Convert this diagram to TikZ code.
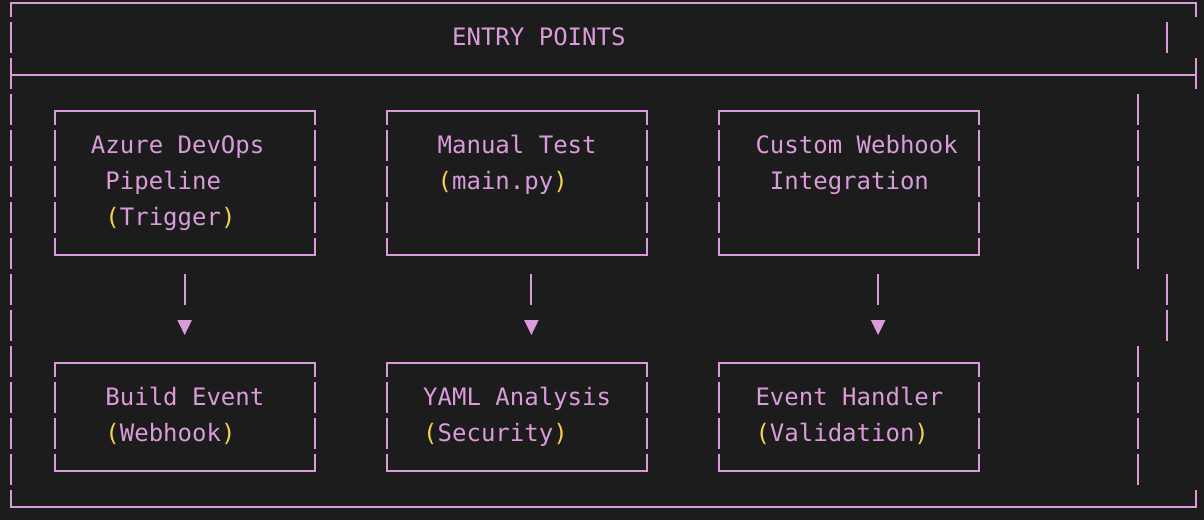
\documentclass[tikz,border=0pt]{standalone}
\usepackage{fontspec}
\setmonofont{DejaVu Sans Mono}
\definecolor{bg}{HTML}{1C1C1C}
\definecolor{pk}{HTML}{DA9BDA}
\definecolor{yl}{HTML}{F2D24B}
\newcommand{\ylparen}[1]{{\color{yl}(}#1{\color{yl})}}
\newcommand{\asciivbar}[2]{\draw[ln] (#1,#2-0.428) -- (#1,#2+0.428);}
\newcommand{\asciibox}[4]{%
  \draw[ln] (#1,#3+0.428) -- (#1,#3+0.036) -- (#2,#3+0.036) -- (#2,#3+0.428);
  \draw[ln] (#1,#4-0.428) -- (#1,#4+0.036) -- (#2,#4+0.036) -- (#2,#4-0.428);
}
\begin{document}
\begin{tikzpicture}[x=14.447pt,y=-36pt,
  ln/.style={draw=pk,line width=2.1pt},
  tip/.style={fill=pk},
  txt/.style={anchor=base west,inner sep=0pt,text=pk,font=\ttfamily\fontsize{24}{24}\selectfont}]
\fill[bg] (0pt,0pt) rectangle (1204pt,-520pt);
\useasboundingbox (0pt,0pt) rectangle (1204pt,-520pt);
\begin{scope}[shift={(11.3pt,-1.7pt)}]
  % outer frame
  \draw[ln] (0,0.428) -- (0,0.036) -- (82,0.036) -- (82,0.428);
  \draw[ln] (0,2.036) -- (82,2.036);
  \draw[ln] (82,2-0.428) -- (82,2+0.428);
  \draw[ln] (0,14-0.428) -- (0,14.036) -- (82,14.036) -- (82,14-0.428);
  \foreach \r in {1,...,13} {\asciivbar{0}{\r}}
  \asciivbar{80}{1}
  \foreach \r in {3,...,7} {\asciivbar{78}{\r}}
  \foreach \r in {8,9} {\asciivbar{80}{\r}}
  \foreach \r in {10,...,13} {\asciivbar{78}{\r}}
  % boxes
  \foreach \a/\b in {3/21,26/44,49/67} {
    \asciibox{\a}{\b}{3}{7}
    \asciibox{\a}{\b}{10}{13}
    \foreach \r in {4,5,6,11,12} {\asciivbar{\a}{\r}\asciivbar{\b}{\r}}
  }
  % arrows
  \foreach \c/\n in {12/a,36/b,60/c} {
    \coordinate (s\n) at (\c,8-0.428);
    \coordinate (e\n) at (\c,8+0.428);
    \draw[ln] (s\n) -- (e\n);
    \fill[tip] (\c-0.505,9-0.158) -- (\c+0.505,9-0.158) -- (\c,9+0.258) -- cycle;
  }
  % texts
  \node[txt] (title) at (30.5,1.21) {ENTRY POINTS};
  \node[txt] (a1) at (5.5,4.21) {Azure DevOps};
  \node[txt] (a2) at (6.5,5.21) {Pipeline};
  \node[txt] (a3) at (6.5,6.21) {\ylparen{Trigger}};
  \node[txt] (b1) at (29.5,4.21) {Manual Test};
  \node[txt] (b2) at (29.5,5.21) {\ylparen{main.py}};
  \node[txt] (c1) at (51.5,4.21) {Custom Webhook};
  \node[txt] (c2) at (52.5,5.21) {Integration};
  \node[txt] (d1) at (6.5,11.21) {Build Event};
  \node[txt] (d2) at (6.5,12.21) {\ylparen{Webhook}};
  \node[txt] (e1) at (28.5,11.21) {YAML Analysis};
  \node[txt] (e2) at (28.5,12.21) {\ylparen{Security}};
  \node[txt] (f1) at (51.5,11.21) {Event Handler};
  \node[txt] (f2) at (51.5,12.21) {\ylparen{Validation}};
\end{scope}
\end{tikzpicture}
\end{document}
